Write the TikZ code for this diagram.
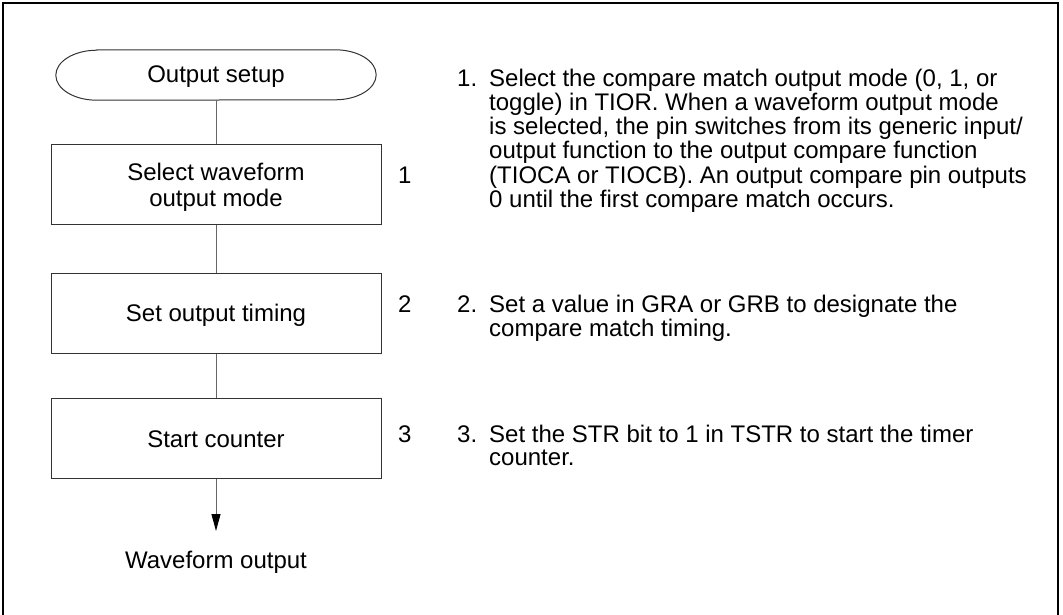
\documentclass[tikz,border=0pt]{standalone}
\usepackage{fontspec}
\setmainfont{Liberation Sans}
\usetikzlibrary{arrows.meta}
\definecolor{boxline}{HTML}{333333}
\definecolor{conn}{HTML}{666666}
\newcommand{\lowtext}[2]{\raisebox{-#1}[\height][\depth]{#2}}
\begin{document}
\begin{tikzpicture}[x=1pt,y=1pt,
  every node/.style={font=\fontsize{24}{23}\selectfont},
  stepbox/.style={draw=boxline,line width=1pt,minimum width=330pt,minimum height=80pt,inner sep=0pt},
  conline/.style={draw=conn,line width=1pt},
  txt/.style={anchor=base west,inner sep=0pt}]
\useasboundingbox (0,0) rectangle (1063,-614);
% frame
\draw[line width=1.6pt] (3,-620) -- (3,-3) -- (1058,-3) -- (1058,-620);
% start terminal
\node[minimum width=320pt,minimum height=50pt,inner sep=0pt] (start) at (216,-75) {\lowtext{1.5pt}{Output setup}};
\draw[boxline,line width=1pt] ([xshift=41pt]start.north west) -- ([xshift=-41pt]start.north east)
  arc[start angle=90,end angle=-90,x radius=41pt,y radius=25pt]
  -- ([xshift=41pt]start.south west)
  arc[start angle=270,end angle=90,x radius=41pt,y radius=25pt] -- cycle;
% boxes
\node[stepbox] (b1) at (216,-184.5) {\lowtext{3.5pt}{\begin{tabular}{@{}c@{}}Select waveform\\[2pt]output mode\end{tabular}}};
\node[stepbox] (b2) at (216,-313) {\lowtext{2.5pt}{Set output timing}};
\node[stepbox] (b3) at (216,-438.5) {\lowtext{1pt}{Start counter}};
\node[anchor=base,inner sep=0pt] (out) at (216,-568) {Waveform output};
\coordinate (tip) at (216,-531);
% connectors
\draw[conline] (start.south) -- (b1.north);
\draw[conline] (b1.south) -- (b2.north);
\draw[conline] (b2.south) -- (b3.north);
\draw[conline,-{Triangle[length=17pt,width=9pt,color=black]}] (b3.south) -- (tip);
% step numbers
\node[txt] (n1) at (398,-183) {1};
\node[txt] (n2) at (398,-312) {2};
\node[txt] (n3) at (398,-442) {3};
% descriptions
\node[txt] (d1n) at (457,-86) {1.};
\node[txt] (d1) at (489,-86) {\begin{tabular}[t]{@{}l@{}}Select the compare match output mode (0, 1, or\\
toggle) in TIOR. When a waveform output mode\\
is selected, the pin switches from its generic input/\\
output function to the output compare function\\
(TIOCA or TIOCB). An output compare pin outputs\\
0 until the first compare match occurs.\end{tabular}};
\node[txt] (d2n) at (457,-312) {2.};
\node[txt] (d2) at (489,-312) {\begin{tabular}[t]{@{}l@{}}Set a value in GRA or GRB to designate the\\
compare match timing.\end{tabular}};
\node[txt] (d3n) at (457,-442) {3.};
\node[txt] (d3) at (489,-442) {\begin{tabular}[t]{@{}l@{}}Set the STR bit to 1 in TSTR to start the timer\\
counter.\end{tabular}};
\end{tikzpicture}
\end{document}
